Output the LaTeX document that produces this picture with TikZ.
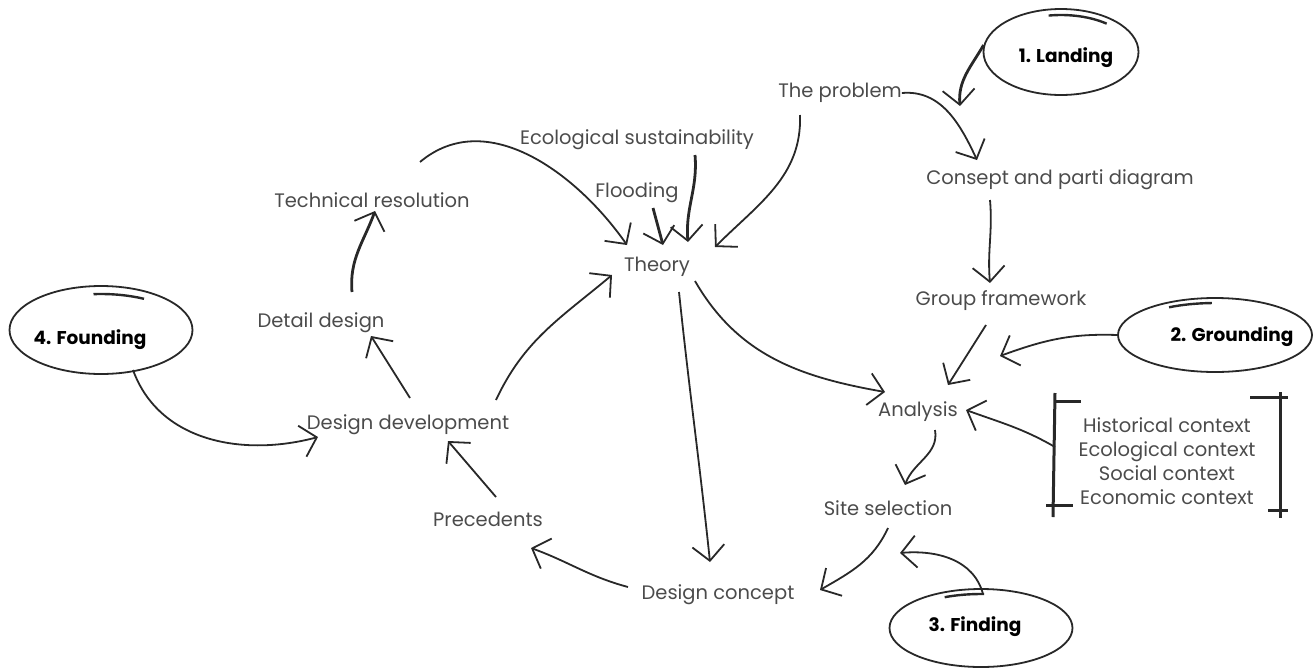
\documentclass[tikz,border=0pt]{standalone}
\usepackage{fontspec}
\setmainfont{Poppins}
\usetikzlibrary{arrows.meta,shapes.geometric}
\definecolor{txt}{RGB}{75,75,75}
\definecolor{ink}{RGB}{40,40,40}
\tikzset{
  lbl/.style={inner sep=0pt, text=txt, font=\fontsize{19.5}{22}\selectfont},
  phase/.style={inner sep=0pt, text=black, font=\fontsize{18.5}{21}\selectfont\bfseries},
  ring/.style={draw=ink, line width=1.8pt, ellipse},
  overlap/.style={draw=ink, line width=2.4pt},
  arr/.style={draw=ink, line width=1.8pt, -{Straight Barb[length=15pt,width=32pt,line width=1.8pt]}},
  harr/.style={arr, line width=2.8pt},
  brk/.style={draw=ink, line width=3pt},
}
\begin{document}
\begin{tikzpicture}[x=1pt,y=-1pt]
\useasboundingbox (0,0) rectangle (1315,670);
% text nodes
\node[lbl] (prob) at (840,93) {The problem};
\node[lbl] (consept) at (1060,180) {Consept and parti diagram};
\node[lbl] (group) at (1001,301) {Group framework};
\node[lbl] (analysis) at (918,412) {Analysis};
\node[lbl] (site) at (888,508) {Site selection};
\node[lbl] (concept) at (718,595) {Design concept};
\node[lbl] (prec) at (488,519) {Precedents};
\node[lbl] (devel) at (408,425) {Design development};
\node[lbl] (detail) at (321,323) {Detail design};
\node[lbl] (tech) at (372,200) {Technical resolution};
\node[lbl] (ecol) at (637,140) {Ecological sustainability};
\node[lbl] (flood) at (637,193) {Flooding};
\node[lbl] (theory) at (657,267) {Theory};
\node[lbl, align=center, font=\fontsize{19.5}{24}\selectfont] (ctx) at (1167,461) {Historical context\\Ecological context\\Social context\\Economic context};
% phase rings
\node[phase] (landing) at (1066,58) {1. Landing};
\node[ring, minimum width=155pt, minimum height=86pt] (ringL) at (1061,52) {};
\node[phase] (grounding) at (1232,337) {2. Grounding};
\node[ring, minimum width=194pt, minimum height=74pt] (ringG) at (1215,335) {};
\node[phase] (finding) at (975,627) {3. Finding};
\node[ring, minimum width=183pt, minimum height=78pt] (ringF) at (981,628) {};
\node[phase] (founding) at (90,340) {4. Founding};
\node[ring, minimum width=183pt, minimum height=88pt] (ringD) at (101,330) {};
% overlap strokes of the hand-drawn rings
\draw[overlap] ([shift={(260:71 and 37)}]ringL.center) arc[start angle=260, end angle=310, x radius=71, y radius=37];
\draw[overlap] ([shift={(240:92 and 32)}]ringG.center) arc[start angle=240, end angle=268, x radius=92, y radius=32];
\draw[overlap] ([shift={(245:86 and 34)}]ringF.center) arc[start angle=245, end angle=272, x radius=86, y radius=34];
\draw[overlap] ([shift={(265:86 and 36)}]ringD.center) arc[start angle=265, end angle=300, x radius=86, y radius=36];
% brackets
\coordinate (bl1) at ([shift={(-112,-68)}]ctx.center);
\coordinate (bl2) at ([shift={(-114,56)}]ctx.center);
\draw[brk] (bl1) -- (bl2);
\draw[brk] ([shift={(0,8)}]bl1) -- ([shift={(26,8)}]bl1);
\draw[brk] ([shift={(-7,-12)}]bl2) -- ([shift={(20,-12)}]bl2);
\coordinate (br1) at ([shift={(113,-69)}]ctx.center);
\coordinate (br2) at ([shift={(113,57)}]ctx.center);
\draw[brk] (br1) -- (br2);
\draw[brk] ([shift={(-30,5)}]br1) -- ([shift={(8,5)}]br1);
\draw[brk] ([shift={(-12,-8)}]br2) -- ([shift={(8,-8)}]br2);
% connectors
\draw[harr] ([shift={(1,-7)}]ringL.west) to[out=240,in=95] ([shift={(-106,48)}]landing.center);
\draw[arr] (prob.east) to[out=5,in=115] ([shift={(-83,-20)}]consept.center);
\draw[arr] ([shift={(-70,20)}]consept.center) to[out=-85,in=95] ([shift={(-11,-18)}]group.center);
\draw[arr] ([shift={(-15,24)}]group.center) -- ([shift={(30,-27)}]analysis.center);
\draw[arr] (ringG.west) to[out=178,in=20] ([shift={(82,-56)}]analysis.center);
\draw[arr] ([shift={(-112,-14)}]ctx.center) to[out=150,in=-20] ([shift={(48,-2)}]analysis.center);
\draw[arr] ([shift={(17,18)}]analysis.center) to[out=-80,in=70] ([shift={(17,-23)}]site.center);
\draw[arr] ([shift={(0,20)}]site.center) to[out=-115,in=30] ([shift={(102,-5)}]concept.center);
\draw[arr] ([shift={(2,-34)}]ringF.center) to[out=105,in=5] ([shift={(12,45)}]site.center);
\draw[arr] ([shift={(22,25)}]theory.center) to[out=-84,in=96] ([shift={(-8,-33)}]concept.center);
\draw[arr] ([shift={(-90,-8)}]concept.center) to[out=165,in=-20] ([shift={(43,29)}]prec.center);
\draw[arr] ([shift={(8,-22)}]prec.center) -- ([shift={(40,16)}]devel.center);
\draw[arr] ([shift={(32,40)}]ringD.center) to[out=-70,in=195] ([shift={(-90,12)}]devel.center);
\draw[arr] ([shift={(88,-25)}]devel.center) to[out=65,in=-140] ([shift={(-45,8)}]theory.center);
\draw[arr] ([shift={(2,-27)}]devel.center) -- ([shift={(50,13)}]detail.center);
\draw[harr] ([shift={(31,-31)}]detail.center) to[out=95,in=-110] ([shift={(3,11)}]tech.center);
\draw[arr] ([shift={(48,-38)}]tech.center) to[out=40,in=125] ([shift={(-30,-22)}]theory.center);
\draw[harr] ([shift={(16,15)}]flood.center) -- ([shift={(6,-22)}]theory.center);
\draw[harr] ([shift={(58,15)}]ecol.center) to[out=-85,in=95] ([shift={(31,-25)}]theory.center);
\draw[arr] ([shift={(-40,22)}]prob.center) to[out=-88,in=45] ([shift={(58,-20)}]theory.center);
\draw[arr] ([shift={(38,14)}]theory.center) to[out=-60,in=170] ([shift={(-33,-20)}]analysis.center);
\end{tikzpicture}
\end{document}
